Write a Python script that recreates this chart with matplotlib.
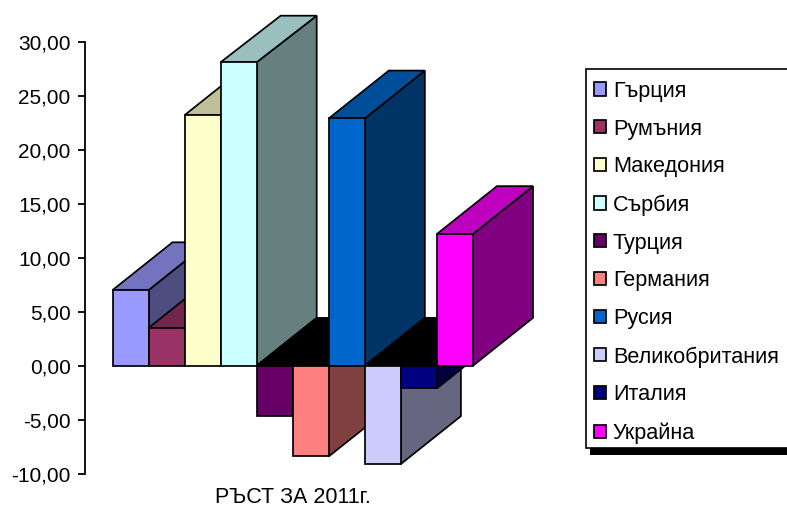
import matplotlib
matplotlib.use("Agg")
import matplotlib.pyplot as plt
from matplotlib.patches import Patch, Polygon, Rectangle
from matplotlib.colors import to_rgb

plt.rcParams['font.family'] = ['Liberation Sans', 'DejaVu Sans']

countries = ['Гърция', 'Румъния', 'Македония', 'Сърбия', 'Турция',
             'Германия', 'Русия', 'Великобритания', 'Италия', 'Украйна']
growth = [7.0, 3.5, 23.2, 28.1, -4.7, -8.4, 22.9, -9.1, -2.1, 12.2]
colors = ['#9999FF', '#993366', '#FFFFCC', '#CCFFFF', '#660066',
          '#FF8080', '#0066CC', '#CCCCFF', '#000080', '#FF00FF']
yticks = [30, 25, 20, 15, 10, 5, 0, -5, -10]
yticklabels = ['30,00', '25,00', '20,00', '15,00', '10,00', '5,00', '0,00', '-5,00', '-10,00']
xlabel = 'РЪСТ ЗА 2011г.'

W, H = 787, 508
LEFT, RIGHT, TOP, ZERO, PX_PER_UNIT, BAR_PX, BAR0 = 84.5, 560, 15.7, 365.7, 10.8, 36.05, 112.5
BOTTOM = ZERO + 10 * PX_PER_UNIT
DX = 60 / BAR_PX
DY = 47.8 / PX_PER_UNIT
LW = 1.25

fig = plt.figure(figsize=(W / 100, H / 100), dpi=100)
ax = fig.add_axes([LEFT / W, 1 - BOTTOM / H, (RIGHT - LEFT) / W, (BOTTOM - TOP) / H])
x0 = -(BAR0 - LEFT) / BAR_PX
ymax = (ZERO - TOP) / PX_PER_UNIT
ax.set_xlim(x0, x0 + (RIGHT - LEFT) / BAR_PX)
ax.set_ylim(-10, ymax)


def shade(c, f):
    return tuple(v * f for v in to_rgb(c))


def face(points, color, z):
    ax.add_patch(Polygon(points, closed=True, facecolor=color, edgecolor='black',
                         linewidth=LW, joinstyle='miter', clip_on=False, zorder=z))


for i, (v, c) in enumerate(zip(growth, colors)):
    z = 2 + i
    r = i + 1
    hi = max(v, 0)
    lo = min(v, 0)
    back = min(hi + DY, ymax)
    # side face
    face([(r, lo), (r + DX, lo + DY), (r + DX, back), (r, hi)], shade(c, 0.5), z)
    # top face: dark when the bar hangs below zero
    top_col = 'black' if v < 0 else shade(c, 0.75)
    face([(i, hi), (r, hi), (r + DX, back), (i + DX, back)], top_col, z)
    # front face
    face([(i, 0), (r, 0), (r, v), (i, v)], c, z)

ax.patch.set_visible(False)
for s in ('top', 'right', 'bottom'):
    ax.spines[s].set_visible(False)
ax.spines['left'].set_bounds(-10, 30)
ax.spines['left'].set_linewidth(1.3)
ax.set_xticks([])
ax.set_yticks(yticks)
ax.set_yticklabels(yticklabels, fontsize=15, color='black')
ax.tick_params(axis='y', length=5, width=1.3, pad=5)
ax.set_xlabel(xlabel, fontsize=15.5, va='center')
ax.xaxis.set_label_coords((292.5 - LEFT) / (RIGHT - LEFT), -(497.5 - BOTTOM) / (BOTTOM - TOP))


def legend_box(x1, y1, x2, y2, **kw):
    fig.add_artist(Rectangle((x1 / W, 1 - y2 / H), (x2 - x1) / W, (y2 - y1) / H,
                             transform=fig.transFigure, zorder=1, **kw))


legend_box(590, 74, 800, 454.5, facecolor='black', edgecolor='none')
legend_box(585.7, 69, 800, 448.3, facecolor='white', edgecolor='black', linewidth=1.2)

handles = [Patch(facecolor=c, edgecolor='black', linewidth=LW) for c in colors]
leg = fig.legend(handles, countries, loc='upper left',
                 bbox_to_anchor=(585.7 / W, 1 - 72 / H), bbox_transform=fig.transFigure,
                 borderaxespad=0, fontsize=15.6, frameon=False,
                 handlelength=0.55, handleheight=0.55, handletextpad=0.3,
                 labelspacing=0.78, borderpad=0.4)
leg.set_zorder(2)

fig.savefig('out.png', dpi=100)
